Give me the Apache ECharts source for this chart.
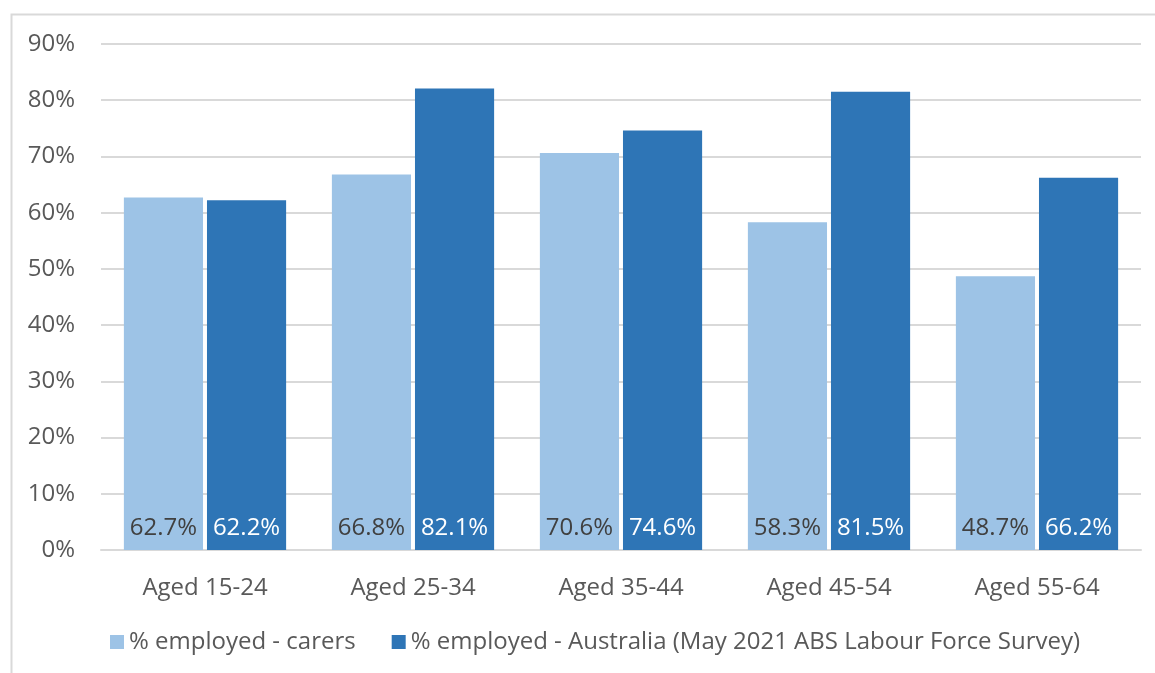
<!DOCTYPE html>
<html><head><meta charset="utf-8">
<script src="https://cdn.jsdelivr.net/npm/echarts@6/dist/echarts.min.js"></script>
<style>html,body{margin:0;padding:0;background:#fff}#c{width:1155px;height:673px}</style>
</head><body><div id="c"></div>
<script>
const categories = ['Aged 15-24','Aged 25-34','Aged 35-44','Aged 45-54','Aged 55-64'];
const carers = [62.7, 66.8, 70.6, 58.3, 48.7];
const australia = [62.2, 82.1, 74.6, 81.5, 66.2];
const seriesNames = ['% employed - carers','% employed - Australia (May 2021 ABS Labour Force Survey)'];
const FONT = '"Open Sans", "Noto Sans", sans-serif';
const FS = 24;
const chart = echarts.init(document.getElementById('c'));
chart.setOption({
  animation:false,
  graphic:[{type:'rect',shape:{x:11.5,y:14.5,width:1200,height:700},style:{fill:'none',stroke:'#d9d9d9',lineWidth:2},silent:true}],
  grid:{left:101,right:14,top:44,bottom:123},
  legend:{bottom:14,left:105,itemWidth:14,itemHeight:14,itemGap:36,icon:'rect',
    textStyle:{color:'#595959',fontSize:FS,fontFamily:FONT}},
  xAxis:{type:'category',data:categories,
    axisLine:{lineStyle:{color:'#d9d9d9',width:2}},axisTick:{show:false},
    axisLabel:{color:'#595959',fontSize:FS,fontFamily:FONT,margin:26}},
  yAxis:{type:'value',min:0,max:90,interval:10,
    axisLabel:{formatter:'{value}%',color:'#595959',fontSize:FS,fontFamily:FONT,margin:26},
    splitLine:{lineStyle:{color:'#d9d9d9',width:2}},axisLine:{show:false},axisTick:{show:false}},
  series:[
    {name:seriesNames[0],type:'bar',data:carers,barGap:'5%',barCategoryGap:'22%',
     itemStyle:{color:'#9DC3E6'},
     label:{show:true,position:'insideBottom',distance:10,formatter:p=>p.value.toFixed(1)+'%',
       color:'#404040',fontSize:FS,fontFamily:FONT}},
    {name:seriesNames[1],type:'bar',data:australia,
     itemStyle:{color:'#2E75B6'},
     label:{show:true,position:'insideBottom',distance:10,formatter:p=>p.value.toFixed(1)+'%',
       color:'#ffffff',fontSize:FS,fontFamily:FONT}}
  ]
});
</script></body></html>
